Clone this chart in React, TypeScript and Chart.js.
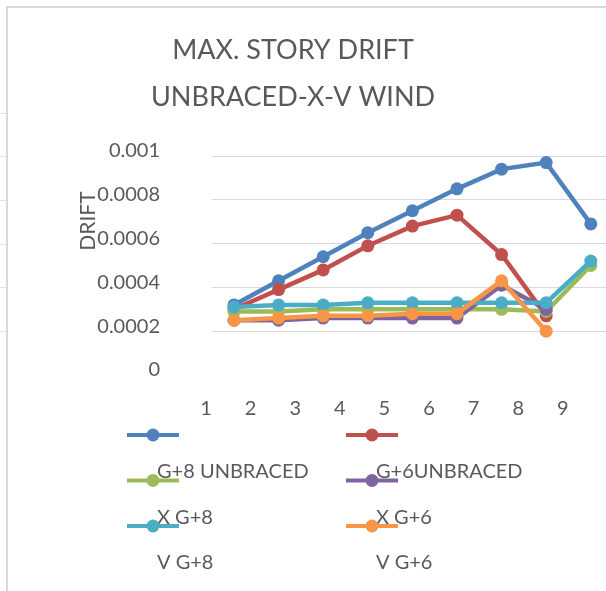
import React, { useEffect, useRef } from 'react';
import { Chart, registerables } from 'chart.js';

Chart.register(...registerables);

// ---- data ----
const storyLabels = [1, 2, 3, 4, 5, 6, 7, 8, 9];
const yTickValues = [0, 0.0002, 0.0004, 0.0006, 0.0008, 0.001];
const yTickLabels = ['0', '0.0002', '0.0004', '0.0006', '0.0008', '0.001'];
const titleLines = ['MAX. STORY DRIFT', 'UNBRACED-X-V WIND'];
const yAxisTitle = 'DRIFT';
const seriesNames = ['G+8 UNBRACED', 'G+6UNBRACED', 'X G+8', 'X G+6', 'V G+8', 'V G+6'];
const seriesColors = ['#4F81BD', '#C0504D', '#9BBB59', '#8064A2', '#4BACC6', '#F79646'];

const g8Unbraced = [0.00032, 0.00043, 0.00054, 0.00065, 0.00075, 0.00085, 0.00094, 0.00097, 0.00069];
const g6Unbraced = [0.0003, 0.00039, 0.00048, 0.00059, 0.00068, 0.00073, 0.00055, 0.00027];
const xG8 = [0.00029, 0.00029, 0.0003, 0.0003, 0.0003, 0.0003, 0.0003, 0.00029, 0.0005];
const xG6 = [0.00025, 0.00025, 0.00026, 0.00026, 0.00026, 0.00026, 0.00041, 0.0003];
const vG8 = [0.00031, 0.00032, 0.00032, 0.00033, 0.00033, 0.00033, 0.00033, 0.00033, 0.00052];
const vG6 = [0.00025, 0.00026, 0.00027, 0.00027, 0.00028, 0.00028, 0.00043, 0.0002];

const FONT = 'Lato, "Open Sans", sans-serif';
const TEXT = '#595959';

export default function App() {
  const ref = useRef<HTMLCanvasElement>(null);

  useEffect(() => {
    const canvas = ref.current;
    if (!canvas) return;
    const seriesValues = [g8Unbraced, g6Unbraced, xG8, xG6, vG8, vG6];

    const framePlugin = {
      id: 'frame',
      beforeDraw(chart: any) {
        const c = chart.ctx;
        c.save();
        c.fillStyle = '#ffffff';
        c.fillRect(0, 0, chart.width, chart.height);
        c.strokeStyle = '#d9d9d9';
        c.lineWidth = 2;
        c.beginPath();
        c.moveTo(6, 7);
        c.lineTo(chart.width, 7);
        c.moveTo(7, 6);
        c.lineTo(7, chart.height);
        c.stroke();
        c.lineWidth = 1;
        c.strokeStyle = '#e3e3e3';
        [113, 156, 200, 244, 287, 331].forEach((y) => {
          c.beginPath();
          c.moveTo(0, y + 0.5);
          c.lineTo(6, y + 0.5);
          c.stroke();
        });
        c.restore();
      },
    };

    const textPlugin = {
      id: 'texts',
      afterDraw(chart: any) {
        const c = chart.ctx;
        c.save();
        c.fillStyle = TEXT;
        c.textAlign = 'center';
        c.textBaseline = 'middle';
        c.font = `27px ${FONT}`;
        titleLines.forEach((t, i) => c.fillText(t, 293, 50 + i * 47));
        // y axis title
        c.font = `21px ${FONT}`;
        c.translate(88, 221);
        c.rotate(-Math.PI / 2);
        c.fillText(yAxisTitle, 0, 0);
        c.restore();

        // legend
        c.save();
        const colX = [127, 346];
        const rowY = [435, 480.5, 526];
        chart.data.datasets.forEach((ds: any, i: number) => {
          const col = i % 2;
          const row = Math.floor(i / 2);
          const x = colX[col];
          const y = rowY[row];
          c.strokeStyle = ds.borderColor;
          c.fillStyle = ds.borderColor;
          c.lineWidth = 4;
          c.beginPath();
          c.moveTo(x, y);
          c.lineTo(x + 52, y);
          c.stroke();
          c.beginPath();
          c.arc(x + 26, y, 6.5, 0, Math.PI * 2);
          c.fill();
          c.fillStyle = TEXT;
          c.font = `20px ${FONT}`;
          c.textAlign = 'left';
          c.textBaseline = 'middle';
          c.fillText(ds.label, x + 30, y + 37);
        });
        c.restore();
      },
    };

    const chart = new Chart(canvas, {
      type: 'line',
      data: {
        datasets: seriesValues.map((vals, i) => ({
          label: seriesNames[i],
          data: vals.map((v, j) => ({ x: storyLabels[j], y: v })),
          borderColor: seriesColors[i],
          backgroundColor: seriesColors[i],
          borderWidth: 4.5,
          pointRadius: 6.5,
          pointHoverRadius: 6.5,
          pointBorderWidth: 0,
          tension: 0,
          clip: false,
          order: seriesNames.length - i,
        })),
      },
      options: {
        animation: false,
        responsive: false,
        maintainAspectRatio: false,
        layout: { autoPadding: false, padding: { top: 156, left: 0, right: 0, bottom: 0 } },
        plugins: {
          legend: { display: false },
          tooltip: { enabled: false },
          title: { display: false },
        },
        scales: {
          x: {
            type: 'linear',
            min: 0.507,
            max: 9.341,
            afterBuildTicks: (s: any) => {
              s.ticks = storyLabels.map((v) => ({ value: v }));
            },
            afterFit: (s: any) => {
              s.height = 216;
            },
            ticks: {
              autoSkip: false,
              maxRotation: 0,
              labelOffset: -28,
              padding: 0,
              color: TEXT,
              font: { family: FONT, size: 20 },
              callback: (v: any) => String(v),
            },
            grid: { display: false, drawTicks: true, tickLength: 22 },
            border: { display: false },
          },
          y: {
            min: 0,
            max: 0.001,
            afterBuildTicks: (s: any) => {
              s.ticks = yTickValues.map((v) => ({ value: v }));
            },
            afterFit: (s: any) => {
              s.width = 212;
            },
            ticks: {
              padding: 52,
              labelOffset: -5,
              color: TEXT,
              font: { family: FONT, size: 20 },
              callback: (_v: any, i: number) => yTickLabels[i],
            },
            grid: {
              drawTicks: false,
              lineWidth: 1,
              color: (ctx: any) => (ctx.tick && ctx.tick.value === 0 ? 'rgba(0,0,0,0)' : '#d9d9d9'),
            },
            border: { display: false },
          },
        },
      },
      plugins: [framePlugin, textPlugin],
    } as any);

    return () => chart.destroy();
  }, []);

  return (
    <div style={{ position: 'absolute', left: 0, top: 0, width: 606, height: 591 }}>
      <canvas ref={ref} width={606} height={591} style={{ display: 'block', width: 606, height: 591 }} />
    </div>
  );
}
